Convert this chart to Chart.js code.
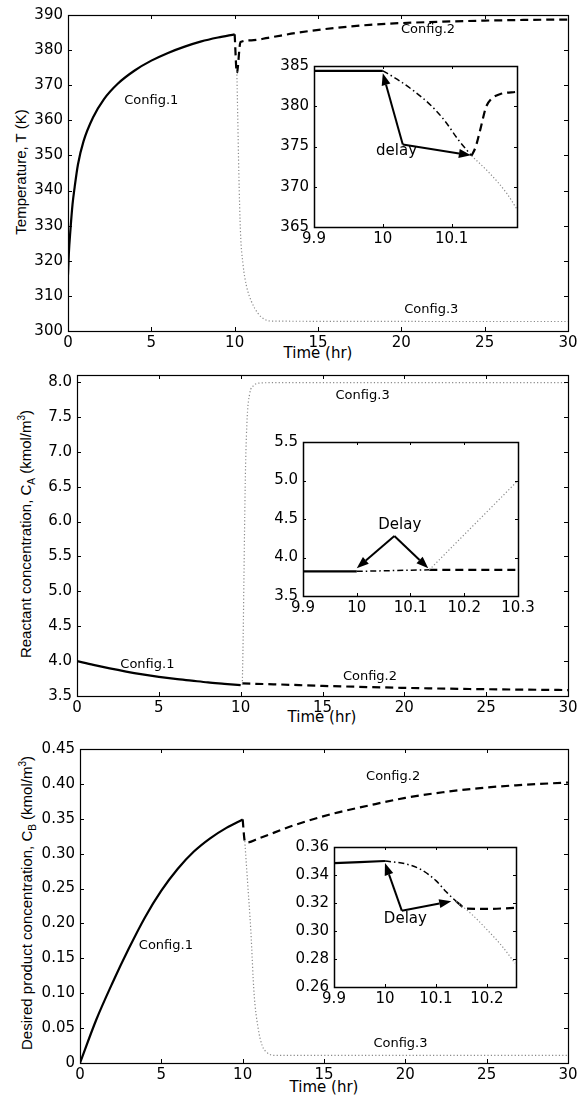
<!DOCTYPE html>
<html>
<head>
<meta charset="utf-8">
<title>Reactor configurations</title>
<script src="https://cdn.jsdelivr.net/npm/chart.js@4.4.0/dist/chart.umd.min.js"></script>
<style>
  body { margin: 0; background: #fff; }
  #page { position: relative; width: 579px; height: 1103px; overflow: hidden;
          font-family: 'Liberation Sans', Arial, Helvetica, sans-serif; color: #000; }
  .box { position: absolute; }
  .ytitle, .xtitle { position: absolute; white-space: nowrap; font-size: 15px; line-height: 1; }
  .ytitle { transform: translate(-50%, -50%) rotate(-90deg); }
  .xtitle { transform: translate(-50%, -50%); font-family: 'DejaVu Sans', sans-serif; }
  sub, sup { font-size: 10px; line-height: 0; }
</style>
</head>
<body>
<div id="page">
  <div class="ytitle" style="left:20px; top:172px;">Temperature, T (K)</div>
  <div class="xtitle" style="left:318px; top:353px;">Time (hr)</div>
  <div class="ytitle" style="left:25px; top:534px;">Reactant concentration, C<sub>A</sub> (kmol/m<sup>3</sup>)</div>
  <div class="xtitle" style="left:322px; top:717px;">Time (hr)</div>
  <div class="ytitle" style="left:26px; top:903px;">Desired product concentration, C<sub>B</sub> (kmol/m<sup>3</sup>)</div>
  <div class="xtitle" style="left:324px; top:1087px;">Time (hr)</div>
</div>
<script>
// ---------- time axis (main panels) ----------
const timeTicks = [0, 5, 10, 15, 20, 25, 30];
const timeLabels = ['0', '5', '10', '15', '20', '25', '30'];

// ---------- panel 1 : temperature ----------
const tempCfg1X = [0, 0.05, 0.15, 0.27, 0.4, 0.6, 0.93, 1.5, 2.15, 3.0, 4.0, 5.0, 6.0, 7.0, 8.0, 9.0, 10.0];
const tempCfg1Y = [316, 322, 329, 336, 341, 347.5, 354, 360.8, 366, 370.5, 374.2, 377, 379.2, 381, 382.5, 383.6, 384.5];
const tempCfg2X = [10, 10.13, 10.35, 11, 12, 13.7, 16, 18.1, 20, 22.5, 25, 27.5, 30];
const tempCfg2Y = [384.5, 373.5, 382.3, 382.8, 383.5, 384.9, 386.3, 387.2, 387.7, 388.1, 388.4, 388.6, 388.7];
const tempCfg3X = [10.13, 10.18, 10.25, 10.35, 10.5, 10.7, 11.0, 11.4, 11.8, 12.3, 30];
const tempCfg3Y = [374, 362, 345, 328, 319, 313, 308.5, 305, 303.3, 302.8, 302.7];
const tempTicks = [300, 310, 320, 330, 340, 350, 360, 370, 380, 390];
const tempLabels = ['300', '310', '320', '330', '340', '350', '360', '370', '380', '390'];
const tempNotes = [['Config.1', 5.0, 365.5], ['Config.2', 21.6, 385.8], ['Config.3', 21.8, 306.2]];

// inset 1
const tInX = [9.9, 10, 10.1];
const tInXLabels = ['9.9', '10', '10.1'];
const tInTicks = [365, 370, 375, 380, 385];
const tInLabels = ['365', '370', '375', '380', '385'];
const tInCfg1X = [9.9, 10.0];
const tInCfg1Y = [384.4, 384.4];
const tInDelayX = [10.0, 10.02, 10.045, 10.07, 10.09, 10.11, 10.129];
const tInDelayY = [384.4, 383.4, 381.9, 380.1, 378.2, 375.8, 373.85];
const tInCfg2X = [10.129, 10.135, 10.1425, 10.15, 10.1575, 10.17, 10.195];
const tInCfg2Y = [373.85, 374.96, 377.4, 379.9, 380.9, 381.5, 381.8];
const tInCfg3X = [10.129, 10.155, 10.18, 10.195];
const tInCfg3Y = [373.85, 371.7, 369.2, 367.2];
const tInArrowBase = [10.029, 375.25];
const tInArrowTips = [[10.0, 384.1], [10.128, 373.9]];
const tInNotes = [['delay', 10.02, 374.4]];

// ---------- panel 2 : reactant ----------
const caCfg1X = [0, 1, 2, 3, 4, 5, 6, 7, 8, 9, 10];
const caCfg1Y = [4.0, 3.945, 3.895, 3.85, 3.81, 3.775, 3.745, 3.72, 3.695, 3.675, 3.655];
const caCfg2X = [10.1, 12, 15, 18, 21, 24, 27, 30];
const caCfg2Y = [3.68, 3.668, 3.645, 3.627, 3.612, 3.6, 3.592, 3.585];
const caCfg3X = [10.1, 10.15, 10.2, 10.25, 10.3, 10.4, 10.55, 10.8, 11.2, 12, 30];
const caCfg3Y = [3.66, 4.3, 5.2, 6.1, 6.8, 7.5, 7.83, 7.95, 7.985, 7.99, 7.99];
const caTicks = [3.5, 4.0, 4.5, 5.0, 5.5, 6.0, 6.5, 7.0, 7.5, 8.0];
const caLabels = ['3.5', '4.0', '4.5', '5.0', '5.5', '6.0', '6.5', '7.0', '7.5', '8.0'];
const caNotes = [['Config.1', 4.3, 3.955], ['Config.2', 17.9, 3.775], ['Config.3', 17.45, 7.8]];

// inset 2
const caInX = [9.9, 10, 10.1, 10.2, 10.3];
const caInXLabels = ['9.9', '10', '10.1', '10.2', '10.3'];
const caInTicks = [3.5, 4.0, 4.5, 5.0, 5.5];
const caInLabels = ['3.5', '4.0', '4.5', '5.0', '5.5'];
const caInCfg1X = [9.9, 10.0];
const caInCfg1Y = [3.82, 3.82];
const caInDelayX = [10.0, 10.135];
const caInDelayY = [3.82, 3.84];
const caInCfg2X = [10.135, 10.3];
const caInCfg2Y = [3.84, 3.84];
const caInCfg3X = [10.135, 10.3];
const caInCfg3Y = [3.84, 5.0];
const caInArrowBase = [10.07, 4.28];
const caInArrowTips = [[10.0, 3.86], [10.133, 3.86]];
const caInNotes = [['Delay', 10.08, 4.42]];

// ---------- panel 3 : desired product ----------
const cbCfg1X = [0, 1, 2, 3, 4, 5, 6, 7, 8, 9, 10];
const cbCfg1Y = [0, 0.062, 0.115, 0.164, 0.209, 0.247, 0.278, 0.303, 0.322, 0.337, 0.349];
const cbCfg2X = [10, 10.13, 10.25, 11, 13.2, 15.5, 17.75, 20, 22.3, 24.6, 26.8, 30];
const cbCfg2Y = [0.349, 0.318, 0.316, 0.322, 0.341, 0.357, 0.369, 0.38, 0.388, 0.394, 0.398, 0.402];
const cbCfg3X = [10.13, 10.3, 10.5, 10.7, 10.95, 11.2, 11.5, 11.9, 30];
const cbCfg3Y = [0.318, 0.26, 0.19, 0.10, 0.05, 0.025, 0.015, 0.011, 0.011];
const cbTicks = [0, 0.05, 0.10, 0.15, 0.20, 0.25, 0.30, 0.35, 0.40, 0.45];
const cbLabels = ['0', '0.05', '0.10', '0.15', '0.20', '0.25', '0.30', '0.35', '0.40', '0.45'];
const cbNotes = [['Config.1', 5.28, 0.168], ['Config.2', 19.25, 0.41], ['Config.3', 19.7, 0.028]];

// inset 3
const cbInX = [9.9, 10, 10.1, 10.2];
const cbInXLabels = ['9.9', '10', '10.1', '10.2'];
const cbInTicks = [0.26, 0.28, 0.30, 0.32, 0.34, 0.36];
const cbInLabels = ['0.26', '0.28', '0.30', '0.32', '0.34', '0.36'];
const cbInCfg1X = [9.9, 10.0];
const cbInCfg1Y = [0.3485, 0.350];
const cbInDelayX = [10.0, 10.04, 10.07, 10.1, 10.12, 10.14];
const cbInDelayY = [0.350, 0.348, 0.344, 0.336, 0.328, 0.321];
const cbInCfg2X = [10.14, 10.16, 10.2, 10.255];
const cbInCfg2Y = [0.321, 0.316, 0.3158, 0.3165];
const cbInCfg3X = [10.14, 10.17, 10.2, 10.23, 10.255];
const cbInCfg3Y = [0.321, 0.312, 0.301, 0.289, 0.277];
const cbInArrowBase = [10.033, 0.3145];
const cbInArrowTips = [[10.0, 0.3485], [10.13, 0.3212]];
const cbInNotes = [['Delay', 10.04, 0.3085]];

// ---------- drawing ----------
// the reference text is wide, DejaVu Sans matches its widths best
const FONT = "'DejaVu Sans', 'Liberation Sans', Arial, sans-serif";
const page = document.getElementById('page');

const STYLE = {
  cfg1: { borderColor: '#000', borderWidth: 2.2, borderDash: [] },
  cfg2: { borderColor: '#000', borderWidth: 2.2, borderDash: [8, 5] },
  cfg3: { borderColor: '#8a8a8a', borderWidth: 1.2, borderDash: [1.2, 2.2] },
  delay: { borderColor: '#000', borderWidth: 1.5, borderDash: [6, 3, 1.5, 3] }
};

function series(xs, ys, kind) {
  return Object.assign({
    data: xs.map((x, i) => ({ x: x, y: ys[i] })),
    pointRadius: 0,
    fill: false,
    cubicInterpolationMode: 'monotone'
  }, STYLE[kind]);
}

function drawArrow(ctx, x0, y0, x1, y1) {
  const ang = Math.atan2(y1 - y0, x1 - x0);
  const len = 12, half = 4.5;
  const bx = x1 - len * Math.cos(ang), by = y1 - len * Math.sin(ang);
  ctx.beginPath();
  ctx.moveTo(x0, y0);
  ctx.lineTo(bx, by);
  ctx.stroke();
  ctx.beginPath();
  ctx.moveTo(x1, y1);
  ctx.lineTo(bx + half * Math.sin(ang), by - half * Math.cos(ang));
  ctx.lineTo(bx - half * Math.sin(ang), by + half * Math.cos(ang));
  ctx.closePath();
  ctx.fill();
}

const framePlugin = {
  id: 'frame',
  beforeDatasetsDraw(chart, args, opts) {
    if (!opts.fill) return;
    const a = chart.chartArea, ctx = chart.ctx;
    ctx.save();
    ctx.fillStyle = '#fff';
    ctx.fillRect(a.left, a.top, a.right - a.left, a.bottom - a.top);
    ctx.restore();
  },
  afterDatasetsDraw(chart, args, opts) {
    const a = chart.chartArea, ctx = chart.ctx;
    const xs = chart.scales.x, ys = chart.scales.y;
    const tl = opts.tick;
    ctx.save();
    ctx.strokeStyle = '#000';
    ctx.fillStyle = '#000';
    ctx.lineWidth = 1;
    ctx.beginPath();
    xs.ticks.forEach(t => {
      const px = Math.round(xs.getPixelForValue(t.value)) + 0.5;
      ctx.moveTo(px, a.bottom); ctx.lineTo(px, a.bottom - tl);
      ctx.moveTo(px, a.top); ctx.lineTo(px, a.top + tl);
    });
    ys.ticks.forEach(t => {
      const py = Math.round(ys.getPixelForValue(t.value)) + 0.5;
      ctx.moveTo(a.left, py); ctx.lineTo(a.left + tl, py);
      ctx.moveTo(a.right, py); ctx.lineTo(a.right - tl, py);
    });
    ctx.stroke();
    ctx.lineWidth = opts.border;
    ctx.strokeRect(Math.round(a.left) + 0.5, Math.round(a.top) + 0.5,
                   Math.round(a.right - a.left), Math.round(a.bottom - a.top));

    if (opts.arrowBase) {
      ctx.lineWidth = 2;
      const bx = xs.getPixelForValue(opts.arrowBase[0]), by = ys.getPixelForValue(opts.arrowBase[1]);
      opts.arrowTips.forEach(tp => {
        drawArrow(ctx, bx, by, xs.getPixelForValue(tp[0]), ys.getPixelForValue(tp[1]));
      });
    }
    ctx.font = opts.noteSize + 'px ' + FONT;
    ctx.textAlign = 'center';
    ctx.textBaseline = 'middle';
    (opts.notes || []).forEach(n => {
      ctx.fillText(n[0], xs.getPixelForValue(n[1]), ys.getPixelForValue(n[2]));
    });
    ctx.restore();
  }
};

function buildChart(area, spec) {
  const YW = 56, PT = 12, PR = 20, XH = 22;
  const w = area.right - area.left + YW + PR;
  const h = area.bottom - area.top + PT + XH;
  const holder = document.createElement('div');
  holder.className = 'box';
  holder.style.left = (area.left - YW) + 'px';
  holder.style.top = (area.top - PT) + 'px';
  const canvas = document.createElement('canvas');
  canvas.width = w;
  canvas.height = h;
  holder.appendChild(canvas);
  page.appendChild(holder);
  const tickFont = { family: FONT, size: 15 };
  return new Chart(canvas.getContext('2d'), {
    type: 'line',
    data: { datasets: spec.datasets },
    options: {
      responsive: false,
      animation: false,
      events: [],
      layout: { padding: { top: PT, right: PR, left: 0, bottom: 0 } },
      scales: {
        x: {
          type: 'linear', min: spec.xMin, max: spec.xMax,
          grid: { display: false, drawTicks: false }, border: { display: false },
          afterBuildTicks: s => { s.ticks = spec.xTicks.map(v => ({ value: v })); },
          afterFit: s => { s.height = XH; },
          ticks: { font: tickFont, color: '#000', padding: 3, maxRotation: 0, autoSkip: false,
                   callback: (v, i) => spec.xLabels[i] }
        },
        y: {
          type: 'linear', min: spec.yMin, max: spec.yMax,
          grid: { display: false, drawTicks: false }, border: { display: false },
          afterBuildTicks: s => { s.ticks = spec.yTicks.map(v => ({ value: v })); },
          afterFit: s => { s.width = YW; },
          ticks: { font: tickFont, color: '#000', padding: 5, autoSkip: false,
                   callback: (v, i) => spec.yLabels[i] }
        }
      },
      plugins: {
        legend: { display: false },
        tooltip: { enabled: false },
        frame: {
          fill: spec.inset, tick: spec.inset ? 3 : 4, border: spec.inset ? 1.5 : 1.2,
          notes: spec.notes, noteSize: spec.inset ? 15 : 13,
          arrowBase: spec.arrowBase, arrowTips: spec.arrowTips
        }
      }
    },
    plugins: [framePlugin]
  });
}

// panel 1
buildChart({ left: 68, right: 568, top: 13, bottom: 331 }, {
  xMin: 0, xMax: 30, xTicks: timeTicks, xLabels: timeLabels,
  yMin: 300, yMax: 390, yTicks: tempTicks, yLabels: tempLabels,
  notes: tempNotes,
  datasets: [
    series(tempCfg3X, tempCfg3Y, 'cfg3'),
    series(tempCfg1X, tempCfg1Y, 'cfg1'),
    series(tempCfg2X, tempCfg2Y, 'cfg2')
  ]
});
buildChart({ left: 314, right: 517, top: 64, bottom: 227 }, {
  inset: true,
  xMin: 9.9, xMax: 10.195, xTicks: tInX, xLabels: tInXLabels,
  yMin: 365, yMax: 385, yTicks: tInTicks, yLabels: tInLabels,
  notes: tInNotes, arrowBase: tInArrowBase, arrowTips: tInArrowTips,
  datasets: [
    series(tInCfg3X, tInCfg3Y, 'cfg3'),
    series(tInCfg1X, tInCfg1Y, 'cfg1'),
    series(tInDelayX, tInDelayY, 'delay'),
    series(tInCfg2X, tInCfg2Y, 'cfg2')
  ]
});

// panel 2
buildChart({ left: 77, right: 568, top: 373, bottom: 696 }, {
  xMin: 0, xMax: 30, xTicks: timeTicks, xLabels: timeLabels,
  yMin: 3.5, yMax: 8.1, yTicks: caTicks, yLabels: caLabels,
  notes: caNotes,
  datasets: [
    series(caCfg3X, caCfg3Y, 'cfg3'),
    series(caCfg1X, caCfg1Y, 'cfg1'),
    series(caCfg2X, caCfg2Y, 'cfg2')
  ]
});
buildChart({ left: 303, right: 518, top: 440, bottom: 596 }, {
  inset: true,
  xMin: 9.9, xMax: 10.3, xTicks: caInX, xLabels: caInXLabels,
  yMin: 3.5, yMax: 5.5, yTicks: caInTicks, yLabels: caInLabels,
  notes: caInNotes, arrowBase: caInArrowBase, arrowTips: caInArrowTips,
  datasets: [
    series(caInCfg3X, caInCfg3Y, 'cfg3'),
    series(caInCfg1X, caInCfg1Y, 'cfg1'),
    series(caInDelayX, caInDelayY, 'delay'),
    series(caInCfg2X, caInCfg2Y, 'cfg2')
  ]
});

// panel 3
buildChart({ left: 80, right: 568, top: 747, bottom: 1063 }, {
  xMin: 0, xMax: 30, xTicks: timeTicks, xLabels: timeLabels,
  yMin: 0, yMax: 0.45, yTicks: cbTicks, yLabels: cbLabels,
  notes: cbNotes,
  datasets: [
    series(cbCfg3X, cbCfg3Y, 'cfg3'),
    series(cbCfg1X, cbCfg1Y, 'cfg1'),
    series(cbCfg2X, cbCfg2Y, 'cfg2')
  ]
});
buildChart({ left: 334, right: 516, top: 845, bottom: 987 }, {
  inset: true,
  xMin: 9.9, xMax: 10.257, xTicks: cbInX, xLabels: cbInXLabels,
  yMin: 0.26, yMax: 0.36, yTicks: cbInTicks, yLabels: cbInLabels,
  notes: cbInNotes, arrowBase: cbInArrowBase, arrowTips: cbInArrowTips,
  datasets: [
    series(cbInCfg3X, cbInCfg3Y, 'cfg3'),
    series(cbInCfg1X, cbInCfg1Y, 'cfg1'),
    series(cbInDelayX, cbInDelayY, 'delay'),
    series(cbInCfg2X, cbInCfg2Y, 'cfg2')
  ]
});
</script>
</body>
</html>
